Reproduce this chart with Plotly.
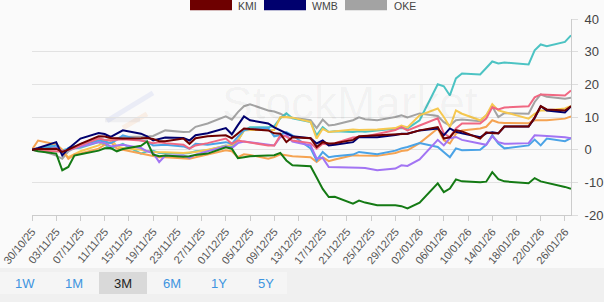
import plotly.graph_objects as go

# ---------------- data ----------------
dates = [
    "2025-10-30", "2025-10-31", "2025-11-03", "2025-11-04", "2025-11-05", "2025-11-06", "2025-11-07",
    "2025-11-10", "2025-11-11", "2025-11-12", "2025-11-13", "2025-11-14",
    "2025-11-17", "2025-11-18", "2025-11-19", "2025-11-20", "2025-11-21",
    "2025-11-24", "2025-11-25", "2025-11-26", "2025-11-28",
    "2025-12-01", "2025-12-02", "2025-12-03", "2025-12-04", "2025-12-05",
    "2025-12-08", "2025-12-09", "2025-12-10", "2025-12-11", "2025-12-12",
    "2025-12-15", "2025-12-16", "2025-12-17", "2025-12-18", "2025-12-19",
    "2025-12-22", "2025-12-23", "2025-12-24", "2025-12-26",
    "2025-12-29", "2025-12-30", "2025-12-31", "2026-01-02",
    "2026-01-05", "2026-01-06", "2026-01-07", "2026-01-08", "2026-01-09",
    "2026-01-12", "2026-01-13", "2026-01-14", "2026-01-15", "2026-01-16",
    "2026-01-20", "2026-01-21", "2026-01-22", "2026-01-23",
    "2026-01-26", "2026-01-27",
]

kmi = [0, 0.2, 0.3, -0.7, 0.0, 1.0, 1.8, 4.1, 4.0, 3.6, 3.4, 3.4, 3.5, 3.6, 3.3, 2.6, 2.6,
       3.4, 1.8, 3.5, 4.1, 4.4, 3.5, 5.0, 6.5, 6.3, 5.9, 5.0, 4.9, 2.3, 3.8, 3.5, 0.8, 2.3,
       1.9, 2.0, 3.0, 4.1, 4.2, 4.5, 4.8, 4.9, 4.9, 5.9, 6.9, 3.4, 3.8, 6.0, 5.6, 3.4, 5.3,
       5.0, 5.0, 7.1, 7.1, 9.9, 13.3, 12.3, 12.0, 13.3]
wmb = [0, 0.5, 2.3, -1.8, 0.3, 2.0, 3.4, 5.1, 4.8, 3.9, 5.0, 5.9, 4.9, 4.1, 2.8, 3.2, 3.7,
       3.6, 2.8, 4.4, 5.0, 6.6, 4.7, 7.5, 10.2, 9.0, 8.0, 6.8, 5.9, 5.1, 4.1, 3.5, 1.9, 2.8,
       1.3, 1.5, 2.3, 3.9, 3.8, 3.8, 4.5, 4.9, 4.9, 5.9, 6.5, 4.4, 6.5, 5.5, 5.0, 3.8, 5.0,
       5.3, 5.0, 7.1, 7.1, 9.6, 13.3, 12.0, 11.4, 13.3]
oke = [0, 0.0, -1.8, -2.8, -0.5, 0.5, 1.8, 3.4, 3.0, 3.2, 3.5, 3.9, 3.9, 4.0, 4.2, 5.0, 5.9,
       5.4, 5.5, 7.0, 8.0, 10.2, 9.2, 11.5, 13.3, 13.9, 12.0, 11.7, 11.0, 10.0, 9.8, 9.0, 6.6,
       9.2, 7.4, 7.6, 9.0, 9.9, 9.3, 9.0, 10.0, 10.5, 9.9, 11.1, 10.3, 8.4, 7.4, 9.0, 9.2,
       8.7, 10.5, 13.2, 10.0, 11.2, 11.0, 14.6, 16.9, 16.2, 15.6, 15.9]
teal = [0, 0.3, 1.8, -0.2, 0.3, 0.5, 0.6, 2.3, 1.5, 0.3, 1.0, 1.8, -1.2, -0.5, -0.3, -1.0,
        -1.0, -1.2, -1.0, -0.5, -0.2, 1.3, 0.8, 2.8, 5.9, 6.9, 6.9, 7.2, 9.6, 11.1, 9.6, 8.5,
        4.4, 6.9, 5.4, 5.6, 5.4, 5.6, 5.5, 5.8, 6.4, 6.6, 6.5, 9.0, 20.0, 19.4, 16.6, 21.8,
        23.3, 23.0, 25.0, 27.0, 26.4, 26.7, 26.1, 30.4, 32.2, 31.7, 33.0, 35.0]
pink = [0, -0.3, -0.5, -0.7, 0.0, 0.5, 1.3, 3.4, 3.0, 2.8, 3.0, 3.2, 2.8, 2.5, 2.0, 2.3, 2.0,
        1.5, 0.3, 1.3, 2.0, 3.4, 1.8, 2.8, 2.5, 2.3, 1.3, 1.3, 4.4, 4.0, 2.8, 2.0, 0.3, 1.8,
        1.6, 2.0, 3.7, 3.9, 4.0, 4.8, 6.0, 6.9, 5.9, 7.4, 9.6, 5.0, 3.8, 6.5, 8.0, 8.0, 9.5,
        13.0, 12.3, 12.9, 13.3, 16.0, 16.9, 16.8, 16.6, 18.1]
yellow = [0, 0.0, 0.5, -0.7, -2.3, -1.5, -0.5, 1.3, 2.3, 3.4, 1.0, 0.5, 0.0, -0.5, -0.7, -0.7,
          -0.8, -1.0, -0.9, -0.7, 0.0, 1.3, 1.5, 2.8, 5.9, 6.0, 5.9, 6.0, 9.9, 10.0, 9.8, 8.5,
          3.4, 6.4, 5.4, 5.6, 6.2, 6.0, 6.0, 6.2, 6.6, 7.4, 6.8, 10.5, 12.6, 10.0, 6.9, 12.0,
          11.0, 9.0, 10.5, 13.9, 12.0, 11.5, 9.5, 11.0, 12.0, 12.0, 12.6, 13.4]
orange = [0, 2.8, 1.6, 0.0, -2.8, -1.5, -1.2, 0.3, 1.5, 2.3, 0.3, 0.0, -1.2, -1.5, -2.0, -2.3,
          -2.3, -2.6, -2.8, -2.3, -1.5, -0.2, -0.5, -2.3, -1.4, -1.6, -2.8, -2.3, -1.4, -1.6,
          -2.0, -2.3, -3.8, -2.3, -3.5, -3.0, -1.7, -1.8, -1.8, -1.9, -1.0, -0.4, -0.2, 2.0,
          6.5, 2.9, 1.9, 4.9, 5.9, 6.5, 7.0, 9.0, 8.3, 8.2, 8.1, 9.0, 9.0, 9.0, 9.5, 10.2]
lightblue = [0, -0.2, 1.3, -1.2, 0.5, 1.0, 1.3, 2.8, 2.5, 2.0, 3.0, 4.4, 2.8, 2.5, 1.3, 1.5,
             1.5, 1.0, 0.3, 1.8, 1.5, 2.3, 1.8, 4.0, 5.9, 6.3, 6.6, 4.1, 4.5, 5.4, 4.4, 0.4,
             -3.3, -0.7, -2.3, -2.0, -1.5, -0.7, -1.0, -1.4, -0.3, 0.4, 0.8, 2.0, 0.8, -0.7,
             -2.3, 0.4, -0.2, 0.0, 1.5, 4.4, 1.9, 0.4, 1.3, 3.1, 1.3, 3.4, 2.6, 3.5]
purple = [0, -0.3, 0.5, -0.5, 0.0, 0.5, 1.0, 2.3, 2.0, 1.0, 1.3, 1.5, 0.5, -0.5, -1.0, -3.8,
          -1.8, -1.8, -2.5, -1.5, -0.5, 1.0, 0.5, 2.0, 2.5, 2.3, 1.5, 1.3, 3.8, 4.5, 2.5, 1.3,
          -2.7, -2.5, -5.3, -5.3, -5.3, -5.5, -5.6, -6.3, -5.8, -4.8, -5.0, -3.0, 3.0, 1.3,
          3.5, 3.9, 3.0, 2.0, 1.5, 4.1, 2.3, 1.8, 2.0, 4.4, 4.4, 4.2, 3.8, 3.5]
green = [0, -0.5, -1.2, -6.3, -5.3, -1.8, -1.4, -0.3, 0.4, 0.5, -0.5, 0.2, 1.2, 2.5, -1.5,
         -2.0, -1.8, -2.2, -2.0, -1.6, -1.2, 0.7, 0.3, -2.6, -2.3, -2.0, -1.8, -1.7, -1.0,
         -3.3, -4.8, -5.1, -8.5, -12.0, -14.5, -14.4, -16.5, -15.6, -16.2, -17.0, -17.0,
         -17.3, -18.0, -16.2, -10.3, -13.0, -11.9, -9.1, -9.7, -10.0, -9.8, -6.9, -9.0, -9.7,
         -10.3, -8.7, -9.7, -10.1, -11.4, -12.0]

y_tick_vals = [-20, -10, 0, 10, 20, 30, 40]
y_tick_text = ["-20", "-10", "0", "10", "20", "30", "40"]
legend_names = ["KMI", "WMB", "OKE"]
range_buttons = ["1W", "1M", "3M", "6M", "1Y", "5Y"]
watermark = "StockMarket"

# ---------------- styling ----------------
series = [
    ("OKE", oke, "#a3a3a3"),
    ("S1", teal, "#4cc3c3"),
    ("S2", yellow, "#f6c850"),
    ("S3", orange, "#f5a352"),
    ("S4", lightblue, "#4ba3e6"),
    ("S5", purple, "#a274f3"),
    ("S6", pink, "#f06882"),
    ("S7", green, "#147a14"),
    ("WMB", wmb, "#00006e"),
    ("KMI", kmi, "#6e0000"),
]

W, H = 604, 302
L, R, T, B = 32, 571, 19.3, 215


def px(x):
    return (x - L) / (R - L)


def py(y):
    return (B - y) / (B - T)


fig = go.Figure()
for name, vals, col in series:
    fig.add_trace(go.Scatter(x=dates, y=vals, mode="lines", name=name,
                             line=dict(color=col, width=2), showlegend=False,
                             hoverinfo="skip"))

shapes = []
# bottom background and range buttons
shapes.append(dict(type="rect", xref="paper", yref="paper", x0=px(-5), x1=px(610),
                   y0=py(268), y1=py(310), fillcolor="#f0f0f0", line=dict(width=0), layer="below"))
shapes.append(dict(type="rect", xref="paper", yref="paper", x0=px(0), x1=px(287),
                   y0=py(272), y1=py(294), fillcolor="#f5f5f5", line=dict(width=0), layer="below"))
shapes.append(dict(type="rect", xref="paper", yref="paper", x0=px(99), x1=px(147),
                   y0=py(272), y1=py(294), fillcolor="#d9d9d9", line=dict(width=0), layer="below"))
# legend swatches (top row partly cut)
leg_x = [190, 264, 345]
leg_cols = ["#6e0000", "#00006e", "#a3a3a3"]
for x0, c in zip(leg_x, leg_cols):
    shapes.append(dict(type="rect", xref="paper", yref="paper", x0=px(x0), x1=px(x0 + 42),
                       y0=py(10.5), y1=py(-5), fillcolor=c, line=dict(width=0)))
# watermark logo strokes
shapes.append(dict(type="line", xref="paper", yref="paper", x0=px(107), y0=py(121), x1=px(153),
                   y1=py(93), line=dict(color="rgba(120,140,220,0.12)", width=5), layer="below"))
shapes.append(dict(type="line", xref="paper", yref="paper", x0=px(123), y0=py(128), x1=px(147),
                   y1=py(114), line=dict(color="rgba(245,160,80,0.12)", width=5), layer="below"))
shapes.append(dict(type="line", xref="paper", yref="paper", x0=px(105), y0=py(120), x1=px(140),
                   y1=py(120), line=dict(color="rgba(150,150,170,0.10)", width=5), layer="below"))

annotations = []
leg_text_x = [236, 310, 392]
for name, x0 in zip(legend_names, leg_text_x):
    annotations.append(dict(text=name, xref="paper", yref="paper", x=px(x0), y=py(6.5),
                            xanchor="left", yanchor="middle", showarrow=False,
                            font=dict(size=10.5, color="#444")))
btn_x = [25, 74, 123, 172, 219, 266]
for lab, x0 in zip(range_buttons, btn_x):
    annotations.append(dict(text=lab, xref="paper", yref="paper", x=px(x0), y=py(283),
                            xanchor="center", yanchor="middle", showarrow=False,
                            font=dict(size=13, color="#222" if lab == "3M" else "#3d94e0")))
annotations.append(dict(text=watermark, xref="paper", yref="paper", x=px(350), y=py(103),
                        xanchor="center", yanchor="middle", showarrow=False,
                        font=dict(size=46, color="rgba(0,0,0,0.04)")))

fig.update_layout(
    width=W, height=H,
    margin=dict(l=L, r=W - R, t=T, b=H - B, pad=0),
    paper_bgcolor="#fafafa", plot_bgcolor="#fafafa",
    font=dict(family="Liberation Sans, Arial, sans-serif", color="#555"),
    showlegend=False,
    shapes=shapes, annotations=annotations,
    xaxis=dict(type="date", range=["2025-10-30", "2026-01-27"],
               tick0="2025-10-30", dtick=4 * 86400000, tickformat="%d/%m/%y",
               tickangle=-50, ticks="outside", ticklen=5, tickcolor="#cccccc",
               showgrid=False, showline=True, linecolor="#cccccc", linewidth=1,
               zeroline=False, tickfont=dict(size=11, color="#555"), automargin=False),
    yaxis=dict(side="right", range=[-20, 40], tickvals=y_tick_vals, ticktext=y_tick_text,
               showgrid=True, gridcolor="#e2e2e2", ticks="outside", ticklen=6,
               tickcolor="#dddddd", showline=True, linecolor="#cccccc", zeroline=False,
               tickfont=dict(size=13, color="#444"), automargin=False,
               ticklabelstandoff=4),
)

fig.write_html("out.html")
